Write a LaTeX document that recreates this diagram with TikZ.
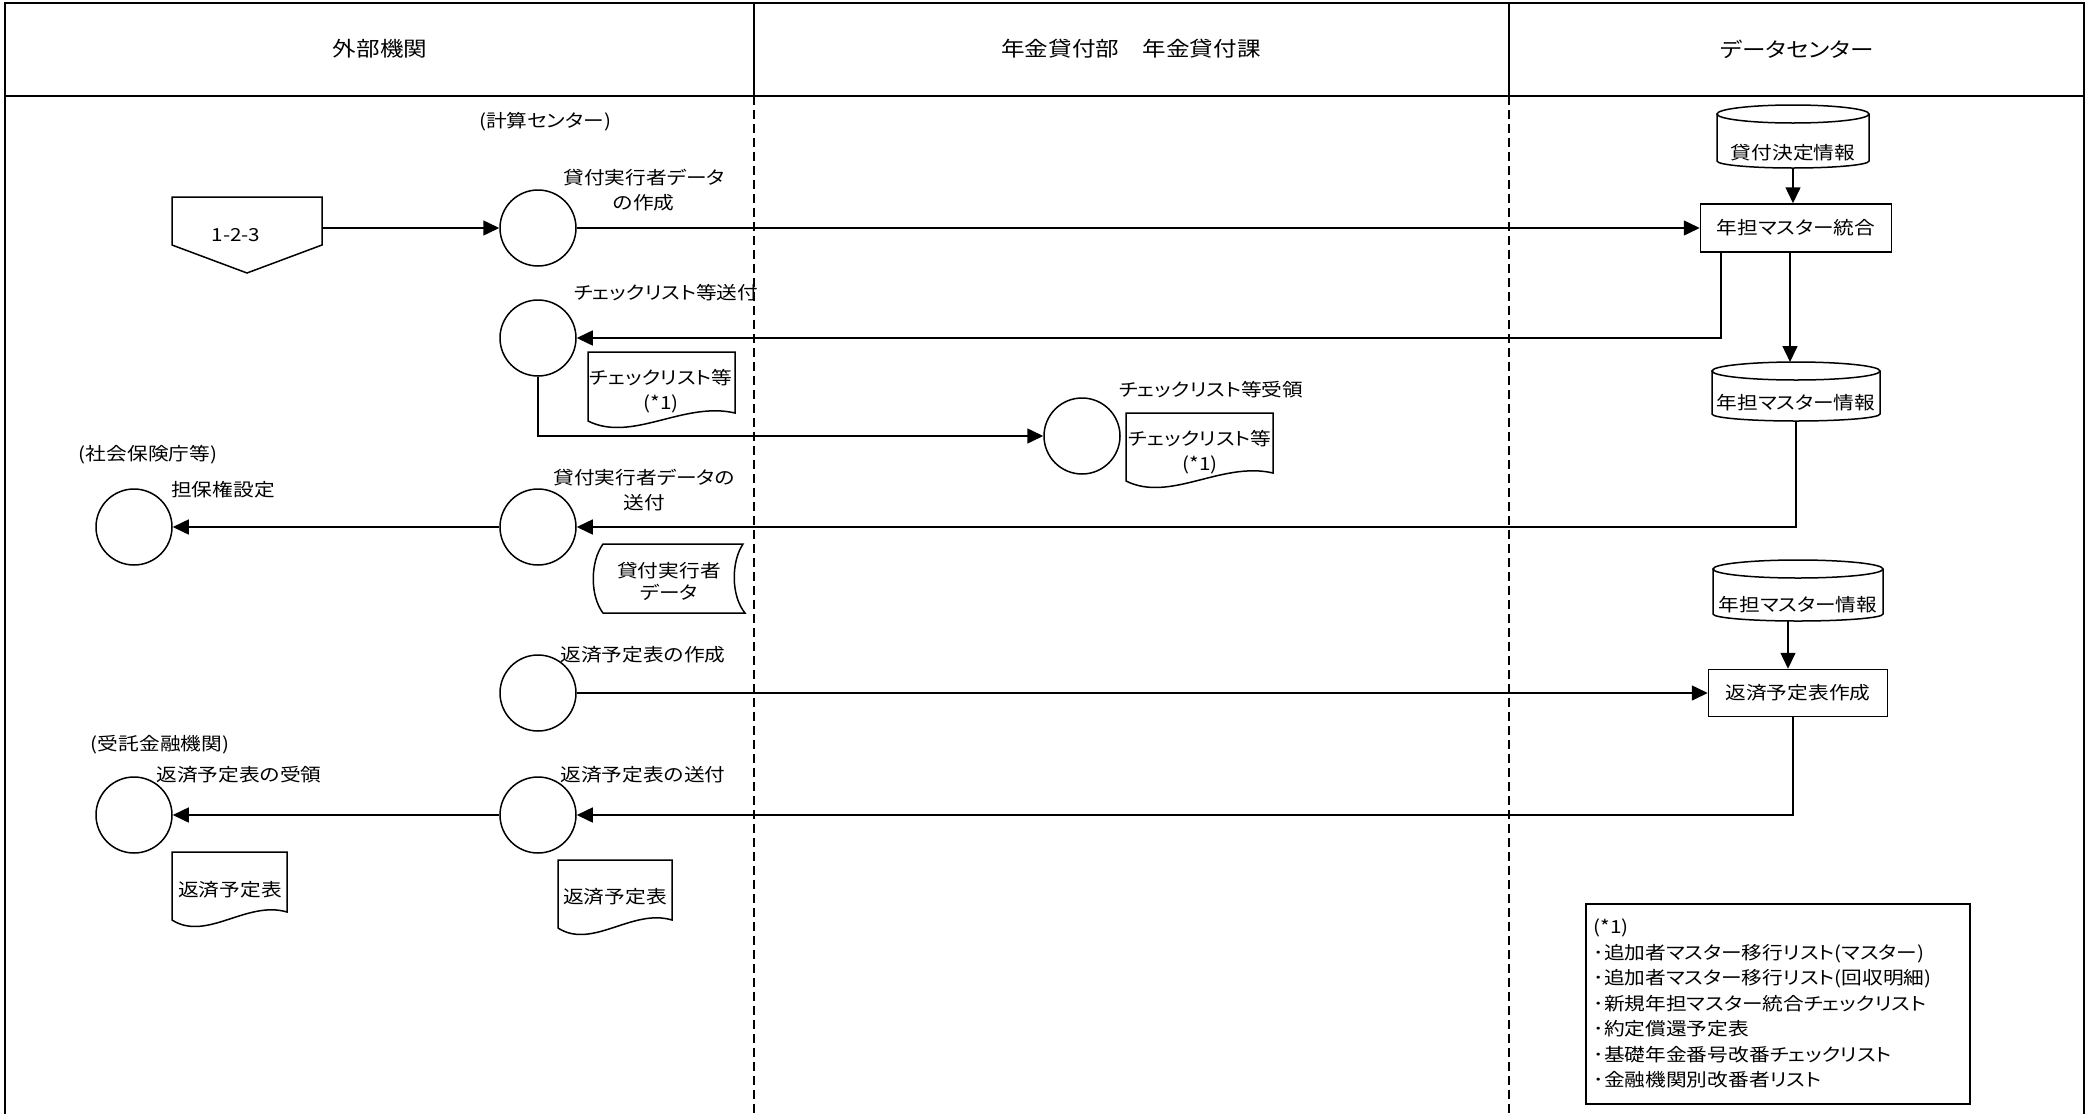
\documentclass[tikz,border=0pt]{standalone}
\usepackage{fontspec}
\setmainfont{Noto Sans CJK JP}[FakeStretch=1.15,RawFeature=+palt]
\usetikzlibrary{arrows.meta,calc}
\newcommand\lblfont{\fontsize{18}{25}\selectfont}
\newcommand\hdrfont{\fontsize{20.5}{26}\selectfont}
\newcommand\legfont{\fontsize{18}{25.5}\selectfont}
\newcommand\docshape[4]{% L R T h
  \draw[shp] (#1,#3) -- (#2,#3) -- (#2,#3+#4)
    .. controls ({#1+0.65*(#2-#1)},{#3+#4-12}) and ({#1+0.3*(#2-#1)},{#3+#4+30}) .. (#1,{#3+#4+8}) -- cycle;}
\newcommand\dbcyl[7]{% name x1 x2 ytop ybot ytext text
  \draw[shp] (#2,#4+9) -- (#2,#5-7) arc[start angle=180,end angle=0,x radius={(#3-#2)/2},y radius=7] -- (#3,#4+9);
  \draw[shp] ({(#2+#3)/2},#4+9) ellipse[x radius={(#3-#2)/2},y radius=9];
  \node[lbl] (#1) at ({(#2+#3)/2},#6) {#7};
  \coordinate (#1-top) at ({(#2+#3)/2},#4);
  \coordinate (#1-bot) at ({(#2+#3)/2},#5);}
\begin{document}
\begin{tikzpicture}[x=1pt,y=-1pt,
  frame/.style={line width=2.2pt},
  lane/.style={line width=1.6pt, dash pattern=on 9pt off 5pt},
  shp/.style={draw, line width=1.5pt},
  proc/.style={circle, draw, line width=1.5pt, minimum size=76pt, inner sep=0pt},
  pbox/.style={rectangle, draw, line width=1.5pt, inner sep=0pt, font=\lblfont},
  lbl/.style={inner sep=0pt, align=center, font=\lblfont},
  hdr/.style={inner sep=0pt, font=\hdrfont},
  arr/.style={line width=1.5pt, -{Triangle[length=16pt,width=15pt]}},
]
\useasboundingbox (0,0) rectangle (2089,1114);

% frame and lanes
\draw[frame] (5,1114) -- (5,3) -- (2084,3) -- (2084,1114);
\draw[frame] (5,96) -- (2084,96);
\draw[frame] (754,3) -- (754,96);
\draw[frame] (1509,3) -- (1509,96);
\draw[lane] (754,96) -- (754,1114);
\draw[lane] (1509,96) -- (1509,1114);
\node[hdr] (h1) at (380,49) {外部機関};
\node[hdr] (h2) at (1131,49) {年金貸付部　年金貸付課};
\node[hdr] (h3) at (1797,49) {データセンター};

% off-page connector
\draw[shp] (172,197) -- (322,197) -- (322,245) -- (247,273) -- (172,245) -- cycle;
\node[lbl] (n123) at (236,235) {1-2-3};
\coordinate (n123e) at (322,228);

% processes
\node[proc] (c1) at (538,228) {};
\node[proc] (c2) at (538,338) {};
\node[proc] (c3) at (538,527) {};
\node[proc] (c4) at (538,693) {};
\node[proc] (c5) at (538,815) {};
\node[proc] (c6) at (134,527) {};
\node[proc] (c7) at (134,815) {};
\node[proc] (c8) at (1082,436) {};

% labels
\node[lbl] (t0) at (545,122) {(計算センター)};
\node[lbl] (t1) at (644,190) {貸付実行者データ\\の作成};
\node[lbl] (t2) at (666,293) {チェックリスト等送付};
\node[lbl] (t3) at (1211,390) {チェックリスト等受領};
\node[lbl] (t4) at (148,455) {(社会保険庁等)};
\node[lbl] (t5) at (223,490) {担保権設定};
\node[lbl] (t6) at (644,490) {貸付実行者データの\\送付};
\node[lbl] (t7) at (643,655) {返済予定表の作成};
\node[lbl] (t8) at (160,745) {(受託金融機関)};
\node[lbl] (t9) at (239,775) {返済予定表の受領};
\node[lbl] (t10) at (643,775) {返済予定表の送付};

% documents
\docshape{588}{735}{352}{61}
\node[lbl] (d1) at (661,391) {チェックリスト等\\(*1)};
\docshape{1126}{1273}{413}{60}
\node[lbl] (d2) at (1200,452) {チェックリスト等\\(*1)};
\draw[shp] (603,544) -- (743,544) .. controls (731,562) and (731,596) .. (745,613)
  -- (603,613) .. controls (590,596) and (590,562) .. (603,544) -- cycle;
\node[lbl] (d3) at (669,581) {貸付実行者\\[-3pt]データ};
\docshape{172}{287}{852}{60}
\node[lbl] (d4) at (230,890) {返済予定表};
\docshape{558}{672}{860}{60}
\node[lbl] (d5) at (615,897) {返済予定表};

% data center
\dbcyl{cy1}{1717}{1869}{105}{168}{153}{貸付決定情報}
\node[pbox, minimum width=191pt, minimum height=48pt] (b1) at (1796,228) {年担マスター統合};
\dbcyl{cy2}{1712}{1880}{362}{421}{403}{年担マスター情報}
\dbcyl{cy3}{1713}{1883}{560}{621}{605}{年担マスター情報}
\node[pbox, minimum width=179pt, minimum height=47pt] (b2) at (1798,693) {返済予定表作成};

% connectors
\draw[arr] (n123e) -- (c1.west);
\draw[arr] (c1.east) -- (b1.west);
\draw[arr] (cy1-bot) -- (cy1-bot |- b1.north);
\draw[arr] ($(b1.south)+(-6,0)$) -- ($(b1.south |- cy2-top)+(-6,0)$);
\draw[arr] ($(b1.south west)+(21,0)$) |- (c2.east);
\draw[arr] (c2.south) |- (c8.west);
\draw[arr] (cy2-bot) |- (c3.east);
\draw[arr] (c3.west) -- (c6.east);
\draw[arr] (c4.east) -- (b2.west);
\draw[arr] ($(cy3-bot)+(-10,0)$) -- ($(cy3-bot |- b2.north)+(-10,0)$);
\draw[arr] ($(b2.south)+(-5,0)$) |- (c5.east);
\draw[arr] (c5.west) -- (c7.east);

% legend
\node[draw, line width=1.5pt, anchor=north west, minimum width=384pt, minimum height=200pt,
  text width=368pt, inner xsep=8pt, align=left, font=\legfont] (leg) at (1585,903)
  {(*1)\\
   ･追加者マスター移行リスト(マスター)\\
   ･追加者マスター移行リスト(回収明細)\\
   ･新規年担マスター統合チェックリスト\\
   ･約定償還予定表\\
   ･基礎年金番号改番チェックリスト\\
   ･金融機関別改番者リスト};
\end{tikzpicture}
\end{document}
